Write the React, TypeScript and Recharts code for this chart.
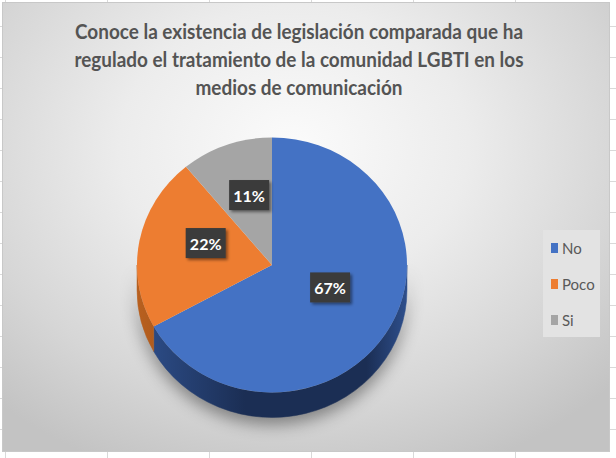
import React from "react";
import { Legend, Pie, PieChart } from "recharts";

// answers to the survey question, share of respondents in %
const categories = ["No", "Poco", "Si"];
const shares = [67, 22, 11];
const sliceColors = ["#4472C4", "#ED7D31", "#A5A5A5"];
const sideLight = ["#2E4F8C", "#B8601F", "#7a7a7a"];
const sideDark = ["#1B2E54", "#8A4512", "#5c5c5c"];

const titleLines = [
  "Conoce la existencia de legislación comparada que ha",
  "regulado el tratamiento de la comunidad LGBTI en los",
  "medios de comunicación",
];
const titleWidths = [448, 449, 207];

const data = categories.map((name, i) => ({
  name,
  value: shares[i],
  fill: sliceColors[i],
  sideLight: sideLight[i],
  sideDark: sideDark[i],
}));

const W = 606;
const H = 448;
const CX = 269;
const CY = 262;
const R = 135;
const TILT = 0.944;
const DEPTH = 25;
const RAD = Math.PI / 180;
const FONT = "Lato, 'Open Sans', sans-serif";

function pt(cx: number, cy: number, a: number) {
  return [cx + R * Math.cos(a * RAD), cy - R * TILT * Math.sin(a * RAD)];
}

function TopFace(props: any) {
  const { cx, cy, startAngle, endAngle, fill } = props;
  const rx = R;
  const ry = R * TILT;
  const [x1, y1] = pt(cx, cy, startAngle);
  const [x2, y2] = pt(cx, cy, endAngle);
  const large = Math.abs(startAngle - endAngle) > 180 ? 1 : 0;
  const sweep = startAngle > endAngle ? 1 : 0;
  return (
    <path
      d={`M${cx},${cy} L${x1},${y1} A${rx},${ry} 0 ${large} ${sweep} ${x2},${y2} Z`}
      fill={fill}
    />
  );
}

function SideFace(props: any) {
  const { cx, cy, startAngle, endAngle, index } = props;
  const entry = props.payload ?? props;
  const hi = Math.max(startAngle, endAngle);
  const lo = Math.min(startAngle, endAngle);
  const rx = R;
  const ry = R * TILT;
  const parts: React.ReactNode[] = [];
  for (let k = -2; k <= 1; k++) {
    const a = Math.max(lo, -180 + 360 * k);
    const b = Math.min(hi, 360 * k);
    if (b <= a) continue;
    const [bx, by] = pt(cx, cy, b);
    const [ax, ay] = pt(cx, cy, a);
    parts.push(
      <path
        key={k}
        d={`M${bx},${by} A${rx},${ry} 0 0 1 ${ax},${ay} L${ax},${ay + DEPTH} A${rx},${ry} 0 0 0 ${bx},${by + DEPTH} Z`}
        fill={`url(#side-${index})`}
        stroke={`url(#side-${index})`}
        strokeWidth={0.5}
      />
    );
  }
  return (
    <g>
      <defs>
        <linearGradient id={`side-${index}`} gradientUnits="userSpaceOnUse" x1={cx - R} x2={cx + R} y1={0} y2={0}>
          <stop offset="0" stopColor={entry.sideLight} />
          <stop offset="0.4" stopColor={entry.sideDark} />
          <stop offset="0.85" stopColor={entry.sideDark} />
          <stop offset="1" stopColor={entry.sideLight} />
        </linearGradient>
      </defs>
      {parts}
    </g>
  );
}

function renderLabel(props: any) {
  const { cx, cy, midAngle, value } = props;
  const r = R * 0.5;
  const x = cx + r * Math.cos(midAngle * RAD);
  const y = cy - r * TILT * Math.sin(midAngle * RAD) - 10;
  return (
    <g>
      <rect x={x - 20} y={y - 15} width={40} height={30} fill="#3a3a3a" filter="url(#labelShadow)" />
      <text
        x={x}
        y={y}
        textAnchor="middle"
        dominantBaseline="central"
        fill="#ffffff"
        fontFamily={FONT}
        fontWeight={700}
        fontSize={16}
      >
        {`${value}%`}
      </text>
    </g>
  );
}

function renderLegend(props: any) {
  const seen = new Set<string>();
  const items = (props.payload ?? []).filter((item: any) => {
    if (item.type === "none" || seen.has(item.value)) return false;
    seen.add(item.value);
    return true;
  });
  return (
    <div style={{ background: "#e3e3e3", width: 57, height: 107, paddingTop: 0, boxSizing: "border-box" }}>
      {items.map((item: any, i: number) => (
        <div key={item.value} style={{ display: "flex", alignItems: "center", height: 36, paddingLeft: 8 }}>
          <span style={{ width: 7, height: 10, background: item.color ?? sliceColors[i], marginRight: 4 }} />
          <span style={{ fontFamily: FONT, fontSize: 15, color: "#595959" }}>{item.value}</span>
        </div>
      ))}
    </div>
  );
}

export default function App() {
  return (
    <div
      style={{
        position: "absolute",
        left: 0,
        top: 0,
        width: 616,
        height: 458,
        background:
          "repeating-linear-gradient(to bottom, transparent 0 26px, #d9d9d9 26px 27px, transparent 27px 31px), repeating-linear-gradient(to right, transparent 0 5px, #d9d9d9 5px 6px, transparent 6px 102px), #fff",
      }}
    >
      <div
        style={{
          position: "absolute",
          left: 2,
          top: 2,
          width: W + 2,
          height: H + 2,
          border: "1px solid #c8c8c8",
          boxSizing: "border-box",
          background:
            "radial-gradient(ellipse 72% 78% at 48% 32%, #fbfbfb 0%, #ececec 40%, #d6d6d6 75%, #c3c3c3 100%)",
        }}
      >
        <svg width={W} height={110} style={{ position: "absolute", left: 0, top: 0 }}>
          {titleLines.map((line, i) => (
            <text
              key={i}
              x={296}
              y={36 + i * 28}
              textAnchor="middle"
              textLength={titleWidths[i]}
              lengthAdjust="spacingAndGlyphs"
              fontFamily={FONT}
              fontWeight={700}
              fontSize={21}
              fill="#545454"
            >
              {line}
            </text>
          ))}
        </svg>
        <PieChart
          width={W}
          height={H}
          margin={{ top: 0, right: 0, bottom: 0, left: 0 }}
          style={{ position: "absolute", left: 0, top: 0 }}
        >
          <defs>
            <filter id="labelShadow" x="-30%" y="-30%" width="170%" height="170%">
              <feDropShadow dx="2" dy="2" stdDeviation="1.5" floodColor="#000" floodOpacity="0.45" />
            </filter>
          </defs>
          <style>{`.pie-sides { filter: drop-shadow(0px 7px 8px rgba(0,0,0,0.4)); }`}</style>
          <Pie
            className="pie-sides"
            data={data}
            dataKey="value"
            nameKey="name"
            cx={CX}
            cy={CY}
            outerRadius={R}
            startAngle={90}
            endAngle={-270}
            stroke="none"
            shape={SideFace}
            legendType="none"
            isAnimationActive={false}
          />
          <Pie
            data={data}
            dataKey="value"
            nameKey="name"
            cx={CX}
            cy={CY}
            outerRadius={R}
            startAngle={90}
            endAngle={-270}
            stroke="none"
            shape={TopFace}
            label={renderLabel}
            labelLine={false}
            isAnimationActive={false}
          />
          <Legend
            layout="vertical"
            align="right"
            verticalAlign="top"
            content={renderLegend}
            wrapperStyle={{ left: 540, top: 227, width: 57, height: 107 }}
          />
        </PieChart>
      </div>
    </div>
  );
}
